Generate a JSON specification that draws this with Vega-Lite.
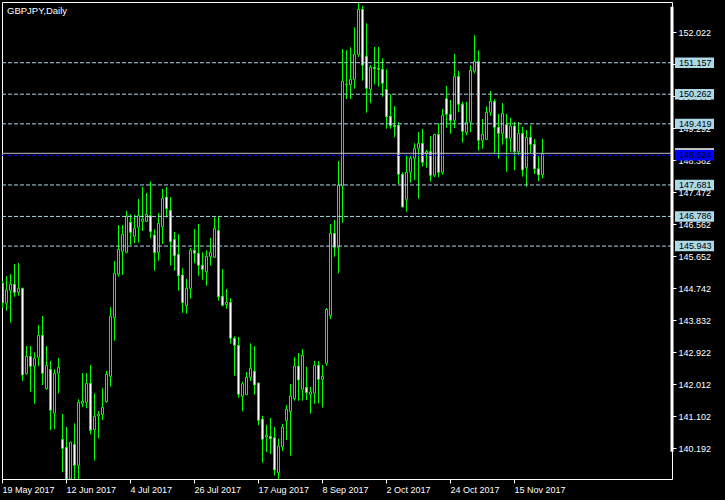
{
  "$schema": "https://vega.github.io/schema/vega-lite/v6.json",
  "width": 670,
  "height": 477,
  "autosize": {"type": "none"},
  "padding": {"left": 2, "top": 2, "right": 53, "bottom": 21},
  "background": "black",
  "config": {
    "view": {"stroke": "white", "strokeWidth": 1},
    "font": "Liberation Sans",
    "axis": {"labelOverlap": false, "labelBound": false, "labelFlush": false, "grid": false, "domain": false, "title": null}
  },
  "title": {"text": "GBPJPY,Daily", "anchor": "start", "frame": "group", "orient": "top", "offset": -13, "color": "white", "fontSize": 9.5, "fontWeight": "normal", "font": "Liberation Sans", "dx": 5},
  "datasets": {
    "candles": [
      {"d":"2017-05-19","o":144.893,"h":144.950,"l":144.191,"c":144.324},
      {"d":"2017-05-22","o":144.316,"h":145.092,"l":144.105,"c":144.694},
      {"d":"2017-05-23","o":144.685,"h":145.149,"l":143.764,"c":144.856},
      {"d":"2017-05-24","o":144.856,"h":145.433,"l":144.503,"c":144.628},
      {"d":"2017-05-25","o":144.628,"h":145.462,"l":144.532,"c":144.742},
      {"d":"2017-05-26","o":144.742,"h":144.759,"l":142.106,"c":142.277},
      {"d":"2017-05-29","o":142.314,"h":143.101,"l":142.291,"c":142.808},
      {"d":"2017-05-30","o":142.808,"h":143.101,"l":141.802,"c":142.524},
      {"d":"2017-05-31","o":142.524,"h":142.922,"l":141.460,"c":142.752},
      {"d":"2017-06-01","o":142.780,"h":143.699,"l":142.524,"c":143.406},
      {"d":"2017-06-02","o":143.406,"h":143.954,"l":141.992,"c":142.325},
      {"d":"2017-06-05","o":141.887,"h":143.101,"l":141.859,"c":142.552},
      {"d":"2017-06-06","o":142.439,"h":142.675,"l":140.704,"c":141.273},
      {"d":"2017-06-07","o":141.187,"h":142.439,"l":140.732,"c":142.325},
      {"d":"2017-06-08","o":142.325,"h":142.760,"l":141.756,"c":142.496},
      {"d":"2017-06-09","o":140.448,"h":141.168,"l":139.510,"c":140.192},
      {"d":"2017-06-12","o":140.221,"h":140.798,"l":139.262,"c":139.319},
      {"d":"2017-06-13","o":139.319,"h":140.380,"l":139.262,"c":140.363},
      {"d":"2017-06-14","o":140.306,"h":140.903,"l":139.319,"c":139.709},
      {"d":"2017-06-15","o":139.709,"h":141.586,"l":139.319,"c":141.500},
      {"d":"2017-06-16","o":141.472,"h":142.333,"l":141.358,"c":141.529},
      {"d":"2017-06-19","o":141.500,"h":142.333,"l":141.330,"c":142.041},
      {"d":"2017-06-20","o":142.041,"h":142.561,"l":140.590,"c":140.704},
      {"d":"2017-06-21","o":140.721,"h":141.756,"l":139.845,"c":141.102},
      {"d":"2017-06-22","o":141.111,"h":141.253,"l":140.476,"c":141.168},
      {"d":"2017-06-23","o":141.159,"h":141.898,"l":140.997,"c":141.358},
      {"d":"2017-06-26","o":141.517,"h":142.390,"l":141.489,"c":142.297},
      {"d":"2017-06-27","o":142.240,"h":144.202,"l":141.944,"c":143.946},
      {"d":"2017-06-28","o":143.906,"h":145.518,"l":143.252,"c":145.169},
      {"d":"2017-06-29","o":145.140,"h":146.542,"l":145.072,"c":145.851},
      {"d":"2017-06-30","o":145.794,"h":146.542,"l":145.120,"c":146.278},
      {"d":"2017-07-03","o":145.766,"h":146.940,"l":145.737,"c":146.790},
      {"d":"2017-07-04","o":146.619,"h":146.846,"l":145.973,"c":146.335},
      {"d":"2017-07-05","o":146.221,"h":146.827,"l":146.022,"c":146.448},
      {"d":"2017-07-06","o":146.477,"h":147.282,"l":146.039,"c":146.807},
      {"d":"2017-07-07","o":146.647,"h":147.623,"l":146.372,"c":146.713},
      {"d":"2017-07-10","o":146.647,"h":147.452,"l":146.636,"c":146.846},
      {"d":"2017-07-11","o":146.807,"h":147.774,"l":146.164,"c":146.352},
      {"d":"2017-07-12","o":146.258,"h":146.420,"l":145.243,"c":145.754},
      {"d":"2017-07-13","o":145.766,"h":146.883,"l":145.527,"c":146.591},
      {"d":"2017-07-14","o":146.494,"h":147.566,"l":146.002,"c":147.301},
      {"d":"2017-07-17","o":147.338,"h":147.623,"l":146.750,"c":147.006},
      {"d":"2017-07-18","o":146.960,"h":147.338,"l":145.385,"c":146.067},
      {"d":"2017-07-19","o":146.135,"h":146.343,"l":145.243,"c":145.669},
      {"d":"2017-07-20","o":145.709,"h":146.286,"l":144.674,"c":145.100},
      {"d":"2017-07-21","o":145.120,"h":145.311,"l":144.048,"c":144.333},
      {"d":"2017-07-24","o":144.247,"h":145.007,"l":144.020,"c":144.742},
      {"d":"2017-07-25","o":144.742,"h":145.880,"l":144.446,"c":145.823},
      {"d":"2017-07-26","o":145.823,"h":146.428,"l":145.453,"c":145.737},
      {"d":"2017-07-27","o":145.737,"h":146.571,"l":145.100,"c":145.396},
      {"d":"2017-07-28","o":145.396,"h":145.766,"l":144.987,"c":145.282},
      {"d":"2017-07-31","o":145.214,"h":145.823,"l":144.816,"c":145.652},
      {"d":"2017-08-01","o":145.641,"h":146.172,"l":145.385,"c":145.766},
      {"d":"2017-08-02","o":145.624,"h":146.761,"l":145.604,"c":146.448},
      {"d":"2017-08-03","o":146.391,"h":146.798,"l":144.390,"c":144.503},
      {"d":"2017-08-04","o":144.515,"h":145.291,"l":144.230,"c":144.259},
      {"d":"2017-08-07","o":144.276,"h":144.722,"l":144.162,"c":144.344},
      {"d":"2017-08-08","o":144.344,"h":144.466,"l":143.167,"c":143.320},
      {"d":"2017-08-09","o":143.320,"h":143.377,"l":142.257,"c":143.121},
      {"d":"2017-08-10","o":143.121,"h":143.357,"l":141.631,"c":141.728},
      {"d":"2017-08-11","o":141.671,"h":142.086,"l":141.244,"c":142.029},
      {"d":"2017-08-14","o":141.716,"h":142.362,"l":141.708,"c":142.211},
      {"d":"2017-08-15","o":142.211,"h":143.178,"l":142.106,"c":142.467},
      {"d":"2017-08-16","o":142.382,"h":143.101,"l":141.716,"c":141.992},
      {"d":"2017-08-17","o":142.049,"h":142.049,"l":140.846,"c":140.988},
      {"d":"2017-08-18","o":141.025,"h":141.119,"l":139.783,"c":140.448},
      {"d":"2017-08-21","o":140.513,"h":140.863,"l":140.087,"c":140.562},
      {"d":"2017-08-22","o":140.533,"h":141.054,"l":140.030,"c":140.465},
      {"d":"2017-08-23","o":140.494,"h":140.798,"l":139.419,"c":139.575},
      {"d":"2017-08-24","o":139.498,"h":140.465,"l":139.319,"c":140.257},
      {"d":"2017-08-25","o":140.229,"h":140.883,"l":140.115,"c":140.798},
      {"d":"2017-08-28","o":140.977,"h":141.424,"l":140.428,"c":141.310},
      {"d":"2017-08-29","o":141.233,"h":142.021,"l":139.982,"c":141.679},
      {"d":"2017-08-30","o":141.603,"h":142.789,"l":141.546,"c":142.533},
      {"d":"2017-08-31","o":142.533,"h":142.902,"l":141.546,"c":142.134},
      {"d":"2017-09-01","o":141.870,"h":143.016,"l":141.546,"c":142.837},
      {"d":"2017-09-04","o":141.927,"h":142.513,"l":141.566,"c":141.773},
      {"d":"2017-09-05","o":141.728,"h":141.935,"l":141.176,"c":141.793},
      {"d":"2017-09-06","o":141.756,"h":142.683,"l":141.452,"c":142.552},
      {"d":"2017-09-07","o":142.552,"h":142.675,"l":141.472,"c":142.154},
      {"d":"2017-09-08","o":142.154,"h":142.561,"l":141.352,"c":142.240},
      {"d":"2017-09-11","o":142.609,"h":144.182,"l":142.541,"c":144.145},
      {"d":"2017-09-12","o":143.963,"h":146.571,"l":143.869,"c":146.306},
      {"d":"2017-09-13","o":146.306,"h":146.684,"l":145.641,"c":145.908},
      {"d":"2017-09-14","o":145.908,"h":148.362,"l":145.169,"c":147.680},
      {"d":"2017-09-15","o":147.651,"h":151.547,"l":146.608,"c":150.637},
      {"d":"2017-09-18","o":150.532,"h":151.519,"l":150.125,"c":150.552},
      {"d":"2017-09-19","o":150.532,"h":151.595,"l":150.125,"c":150.685},
      {"d":"2017-09-20","o":150.685,"h":152.164,"l":150.418,"c":151.396},
      {"d":"2017-09-21","o":151.396,"h":152.855,"l":151.320,"c":152.676},
      {"d":"2017-09-22","o":152.676,"h":152.770,"l":150.646,"c":151.084},
      {"d":"2017-09-25","o":151.340,"h":152.278,"l":149.736,"c":150.430},
      {"d":"2017-09-26","o":150.401,"h":151.092,"l":150.003,"c":151.027},
      {"d":"2017-09-27","o":151.027,"h":151.604,"l":150.543,"c":150.987},
      {"d":"2017-09-28","o":150.998,"h":151.604,"l":150.475,"c":150.970},
      {"d":"2017-09-29","o":150.970,"h":151.283,"l":150.191,"c":150.572},
      {"d":"2017-10-02","o":150.401,"h":150.970,"l":149.281,"c":149.622},
      {"d":"2017-10-03","o":149.633,"h":150.259,"l":149.281,"c":149.366},
      {"d":"2017-10-04","o":149.377,"h":149.926,"l":149.036,"c":149.338},
      {"d":"2017-10-05","o":149.377,"h":149.463,"l":147.708,"c":147.984},
      {"d":"2017-10-06","o":147.984,"h":148.041,"l":147.046,"c":147.054},
      {"d":"2017-10-09","o":147.273,"h":148.533,"l":146.920,"c":148.041},
      {"d":"2017-10-10","o":148.041,"h":148.533,"l":147.745,"c":148.439},
      {"d":"2017-10-11","o":148.439,"h":148.866,"l":147.822,"c":148.723},
      {"d":"2017-10-12","o":148.723,"h":149.187,"l":147.290,"c":148.866},
      {"d":"2017-10-13","o":148.866,"h":149.272,"l":148.200,"c":148.325},
      {"d":"2017-10-16","o":148.561,"h":148.675,"l":148.172,"c":148.627},
      {"d":"2017-10-17","o":148.627,"h":149.073,"l":147.774,"c":147.956},
      {"d":"2017-10-18","o":147.956,"h":149.121,"l":147.907,"c":149.121},
      {"d":"2017-10-19","o":149.121,"h":149.434,"l":147.899,"c":148.041},
      {"d":"2017-10-20","o":148.041,"h":149.841,"l":147.973,"c":149.662},
      {"d":"2017-10-23","o":150.134,"h":150.495,"l":149.309,"c":149.690},
      {"d":"2017-10-24","o":149.690,"h":150.097,"l":149.139,"c":149.520},
      {"d":"2017-10-25","o":149.520,"h":151.405,"l":149.301,"c":150.771},
      {"d":"2017-10-26","o":150.771,"h":150.922,"l":149.747,"c":149.975},
      {"d":"2017-10-27","o":149.975,"h":150.048,"l":148.883,"c":149.207},
      {"d":"2017-10-30","o":149.178,"h":150.040,"l":149.093,"c":149.463},
      {"d":"2017-10-31","o":149.463,"h":151.084,"l":149.187,"c":150.941},
      {"d":"2017-11-01","o":150.913,"h":151.937,"l":150.856,"c":151.197},
      {"d":"2017-11-02","o":151.197,"h":151.510,"l":148.655,"c":148.951},
      {"d":"2017-11-03","o":148.951,"h":149.557,"l":148.712,"c":149.121},
      {"d":"2017-11-06","o":148.979,"h":149.918,"l":148.959,"c":149.747},
      {"d":"2017-11-07","o":149.747,"h":150.353,"l":149.650,"c":150.060},
      {"d":"2017-11-08","o":150.060,"h":150.125,"l":148.581,"c":149.321},
      {"d":"2017-11-09","o":149.321,"h":149.699,"l":148.433,"c":149.150},
      {"d":"2017-11-10","o":149.150,"h":150.011,"l":148.826,"c":149.719},
      {"d":"2017-11-13","o":149.394,"h":149.699,"l":148.058,"c":149.008},
      {"d":"2017-11-14","o":149.008,"h":149.594,"l":148.627,"c":149.357},
      {"d":"2017-11-15","o":149.357,"h":149.471,"l":148.098,"c":148.627},
      {"d":"2017-11-16","o":148.627,"h":149.471,"l":148.513,"c":149.150},
      {"d":"2017-11-17","o":149.150,"h":149.338,"l":147.916,"c":148.106},
      {"d":"2017-11-20","o":148.172,"h":149.244,"l":147.631,"c":149.036},
      {"d":"2017-11-21","o":149.036,"h":149.377,"l":148.581,"c":148.837},
      {"d":"2017-11-22","o":148.837,"h":148.988,"l":147.993,"c":148.143},
      {"d":"2017-11-23","o":148.143,"h":148.504,"l":147.793,"c":147.973},
      {"d":"2017-11-24","o":147.973,"h":148.988,"l":147.870,"c":148.581}
    ],
    "levels": [{"p":151.157},{"p":150.262},{"p":149.419},{"p":147.681},{"p":146.786},{"p":145.943}],
    "blue": [{"p":148.524}],
    "bid": [{"p":148.581}],
    "edge": [{"top":152.75,"bot":140.097}]
  },
  "layer": [
    {
      "data": {"name": "candles"},
      "mark": {"type": "rule", "color": "#00FF00", "strokeWidth": 1, "clip": true},
      "encoding": {
        "x": {
          "field": "d", "type": "ordinal", "title": null,
          "scale": {"type": "band", "range": [-1.5, 542.5], "paddingInner": 0, "paddingOuter": 0},
          "axis": {
            "title": null, "domain": false, "grid": false,
            "values": ["2017-05-19","2017-06-12","2017-07-04","2017-07-26","2017-08-17","2017-09-08","2017-10-02","2017-10-24","2017-11-15"],
            "labelExpr": "utcFormat(toDate(datum.value), '%-d %b %Y')",
            "labelAngle": 0, "labelAlign": "left", "labelBaseline": "alphabetic", "labelDx": 1,
            "labelPadding": 9, "tickSize": 4, "tickColor": "white", "tickWidth": 1,
            "labelColor": "white", "labelFont": "Liberation Sans", "labelFontSize": 9,
            "labelOverlap": false, "labelFlush": false, "labelBound": false
          }
        },
        "y": {
          "field": "l", "type": "quantitative", "title": null,
          "scale": {"domain": [139.319, 152.884], "zero": false, "nice": false},
          "axis": {
            "orient": "right", "title": null, "domain": false, "grid": false, "tickCount": 30,
            "values": [140.192,141.102,142.012,142.922,143.832,144.742,145.652,146.562,147.472,148.382,149.292,150.202,151.112,152.022],
            "format": ".3f", "labelAlign": "left", "labelBaseline": "middle",
            "labelPadding": 2, "tickSize": 4, "tickColor": "white", "tickWidth": 1,
            "labelColor": "white", "labelFont": "Liberation Sans", "labelFontSize": 9,
            "labelOverlap": false, "labelFlush": false, "labelBound": false
          }
        },
        "y2": {"field": "h"}
      }
    },
    {
      "data": {"name": "candles"},
      "mark": {"type": "bar", "size": 2, "stroke": "#00FF00", "strokeWidth": 1, "clip": true},
      "encoding": {
        "x": {"field": "d", "type": "ordinal", "title": null},
        "y": {"field": "o", "type": "quantitative", "title": null},
        "y2": {"field": "c"},
        "fill": {"condition": {"test": "datum.c < datum.o", "value": "white"}, "value": "black"}
      }
    },
    {
      "data": {"name": "levels"},
      "mark": {"type": "rule", "color": "#ADD8E6", "strokeWidth": 1, "strokeDash": [4, 2]},
      "encoding": {"y": {"field": "p", "type": "quantitative", "title": null}}
    },
    {
      "data": {"name": "bid"},
      "mark": {"type": "rule", "color": "#C0C0C0", "strokeWidth": 1},
      "encoding": {"y": {"field": "p", "type": "quantitative", "title": null}}
    },
    {
      "data": {"name": "blue"},
      "mark": {"type": "rule", "color": "#0000FF", "strokeWidth": 1, "strokeDash": [4, 2]},
      "encoding": {"y": {"field": "p", "type": "quantitative", "title": null}}
    },
    {
      "data": {"name": "edge"},
      "mark": {"type": "rule", "color": "white", "strokeWidth": 3},
      "encoding": {
        "x": {"value": "width"},
        "y": {"field": "top", "type": "quantitative", "title": null},
        "y2": {"field": "bot"}
      }
    },
    {
      "data": {"name": "levels"},
      "mark": {"type": "point", "filled": true, "opacity": 1, "color": "#ADD8E6", "size": 6400, "strokeWidth": 0,
               "shape": "M0.075,-0.13L1.05,-0.13L1.05,0.13L0.075,0.13Z"},
      "encoding": {
        "x": {"value": "width"},
        "y": {"field": "p", "type": "quantitative", "title": null}
      }
    },
    {
      "data": {"name": "levels"},
      "mark": {"type": "text", "align": "left", "baseline": "middle", "dx": 7, "color": "black", "font": "Liberation Sans", "fontSize": 9},
      "encoding": {
        "x": {"value": "width"},
        "y": {"field": "p", "type": "quantitative", "title": null},
        "text": {"field": "p", "format": ".3f"}
      }
    },
    {
      "data": {"name": "bid"},
      "mark": {"type": "point", "filled": true, "opacity": 1, "color": "#C0C0C0", "size": 6400, "strokeWidth": 0,
               "shape": "M0.075,-0.13L1.05,-0.13L1.05,0.13L0.075,0.13Z"},
      "encoding": {
        "x": {"value": "width"},
        "y": {"field": "p", "type": "quantitative", "title": null}
      }
    },
    {
      "data": {"name": "blue"},
      "mark": {"type": "point", "filled": true, "opacity": 1, "color": "#0000FF", "size": 6400, "strokeWidth": 0,
               "shape": "M0.075,-0.13L1.05,-0.13L1.05,0.13L0.075,0.13Z"},
      "encoding": {
        "x": {"value": "width"},
        "y": {"field": "p", "type": "quantitative", "title": null}
      }
    },
    {
      "data": {"name": "blue"},
      "mark": {"type": "text", "align": "left", "baseline": "middle", "dx": 7, "color": "black", "font": "Liberation Sans", "fontSize": 9},
      "encoding": {
        "x": {"value": "width"},
        "y": {"field": "p", "type": "quantitative", "title": null},
        "text": {"field": "p", "format": ".3f"}
      }
    }
  ]
}
